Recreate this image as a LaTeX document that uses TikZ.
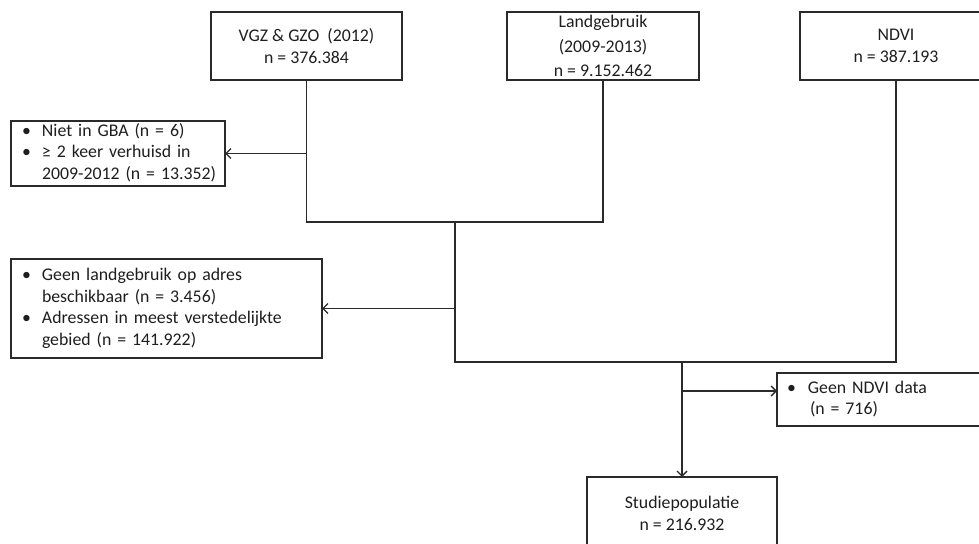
\documentclass[tikz,border=0pt]{standalone}
\usepackage{fontspec}
\setmainfont{Carlito}
\usetikzlibrary{arrows.meta}
\definecolor{ln}{HTML}{2A2A2A}
\definecolor{tx}{HTML}{1E1E1E}
\begin{document}
\begin{tikzpicture}[x=1pt,y=-1pt,
  every node/.style={font=\fontsize{17.8}{21.5}\selectfont, text=tx},
  srcbox/.style={draw=ln, line width=1.9pt, inner sep=0pt, outer sep=0pt, align=center},
  exbox/.style={draw=ln, line width=1.9pt, inner ysep=0pt, inner xsep=11pt, outer sep=0pt, align=left},
  conn/.style={draw=ln, line width=1.6pt},
  arr/.style={conn, -{Straight Barb[length=5pt,width=10pt,line width=1.4pt]}}]
\useasboundingbox (0,0) rectangle (979,543);
\clip (0,0) rectangle (979,543);
\node[srcbox, minimum width=191pt, minimum height=68pt] (vgz) at (306.5,46) {VGZ \& GZO\ \ (2012)\\n = 376.384};
\node[srcbox, minimum width=192pt, minimum height=68pt] (land) at (603,46) {Landgebruik\\[3pt](2009-2013)\\[3pt]n = 9.152.462};
\node[srcbox, minimum width=192pt, minimum height=68pt] (ndvi) at (896,46) {NDVI\\n = 387.193};
\node[exbox, minimum width=214pt, minimum height=65pt, text width=192pt] (ex1) at (118,153.5)
  {\begin{tabular}{@{}p{20pt}@{}l@{}}•&Niet in GBA (n = 6)\\•&≥ 2 keer verhuisd in\\&2009-2012 (n = 13.352)\end{tabular}};
\node[exbox, minimum width=311pt, minimum height=99pt, text width=289pt] (ex2) at (166.5,308.5)
  {\begin{tabular}{@{}p{20pt}@{}l@{}}•&Geen landgebruik op adres\\&beschikbaar (n = 3.456)\\•&Adressen in meest verstedelijkte\\&gebied (n = 141.922)\end{tabular}};
\node[exbox, inner xsep=10pt, minimum width=220pt, minimum height=53pt, text width=200pt] (ex3) at (887,399.5)
  {\begin{tabular}{@{}p{21pt}@{}l@{}}•&Geen NDVI data\\&\hspace{2pt}(n = 716)\end{tabular}};
\node[srcbox, minimum width=190pt, minimum height=73pt] (stud) at (682,513.5) {Studiepopulatie\\n = 216.932};
\coordinate (j1) at (455,222);
\coordinate (j2) at (455,362);
\coordinate (j3) at (682,362);
\coordinate (a3) at (682,391);
\draw[conn] (vgz.south) -- (vgz.south |- j1) -- (land.south |- j1) -- (land.south);
\draw[conn] (j1) -- (j2) -- (ndvi.south |- j2) -- (ndvi.south);
\draw[arr] (j3) -- (stud.north);
\draw[arr] (vgz.south |- ex1.east) -- (ex1.east);
\draw[arr] (j1 |- ex2.east) -- (ex2.east);
\draw[arr] (a3) -- (ex3.west |- a3);
\end{tikzpicture}
\end{document}
